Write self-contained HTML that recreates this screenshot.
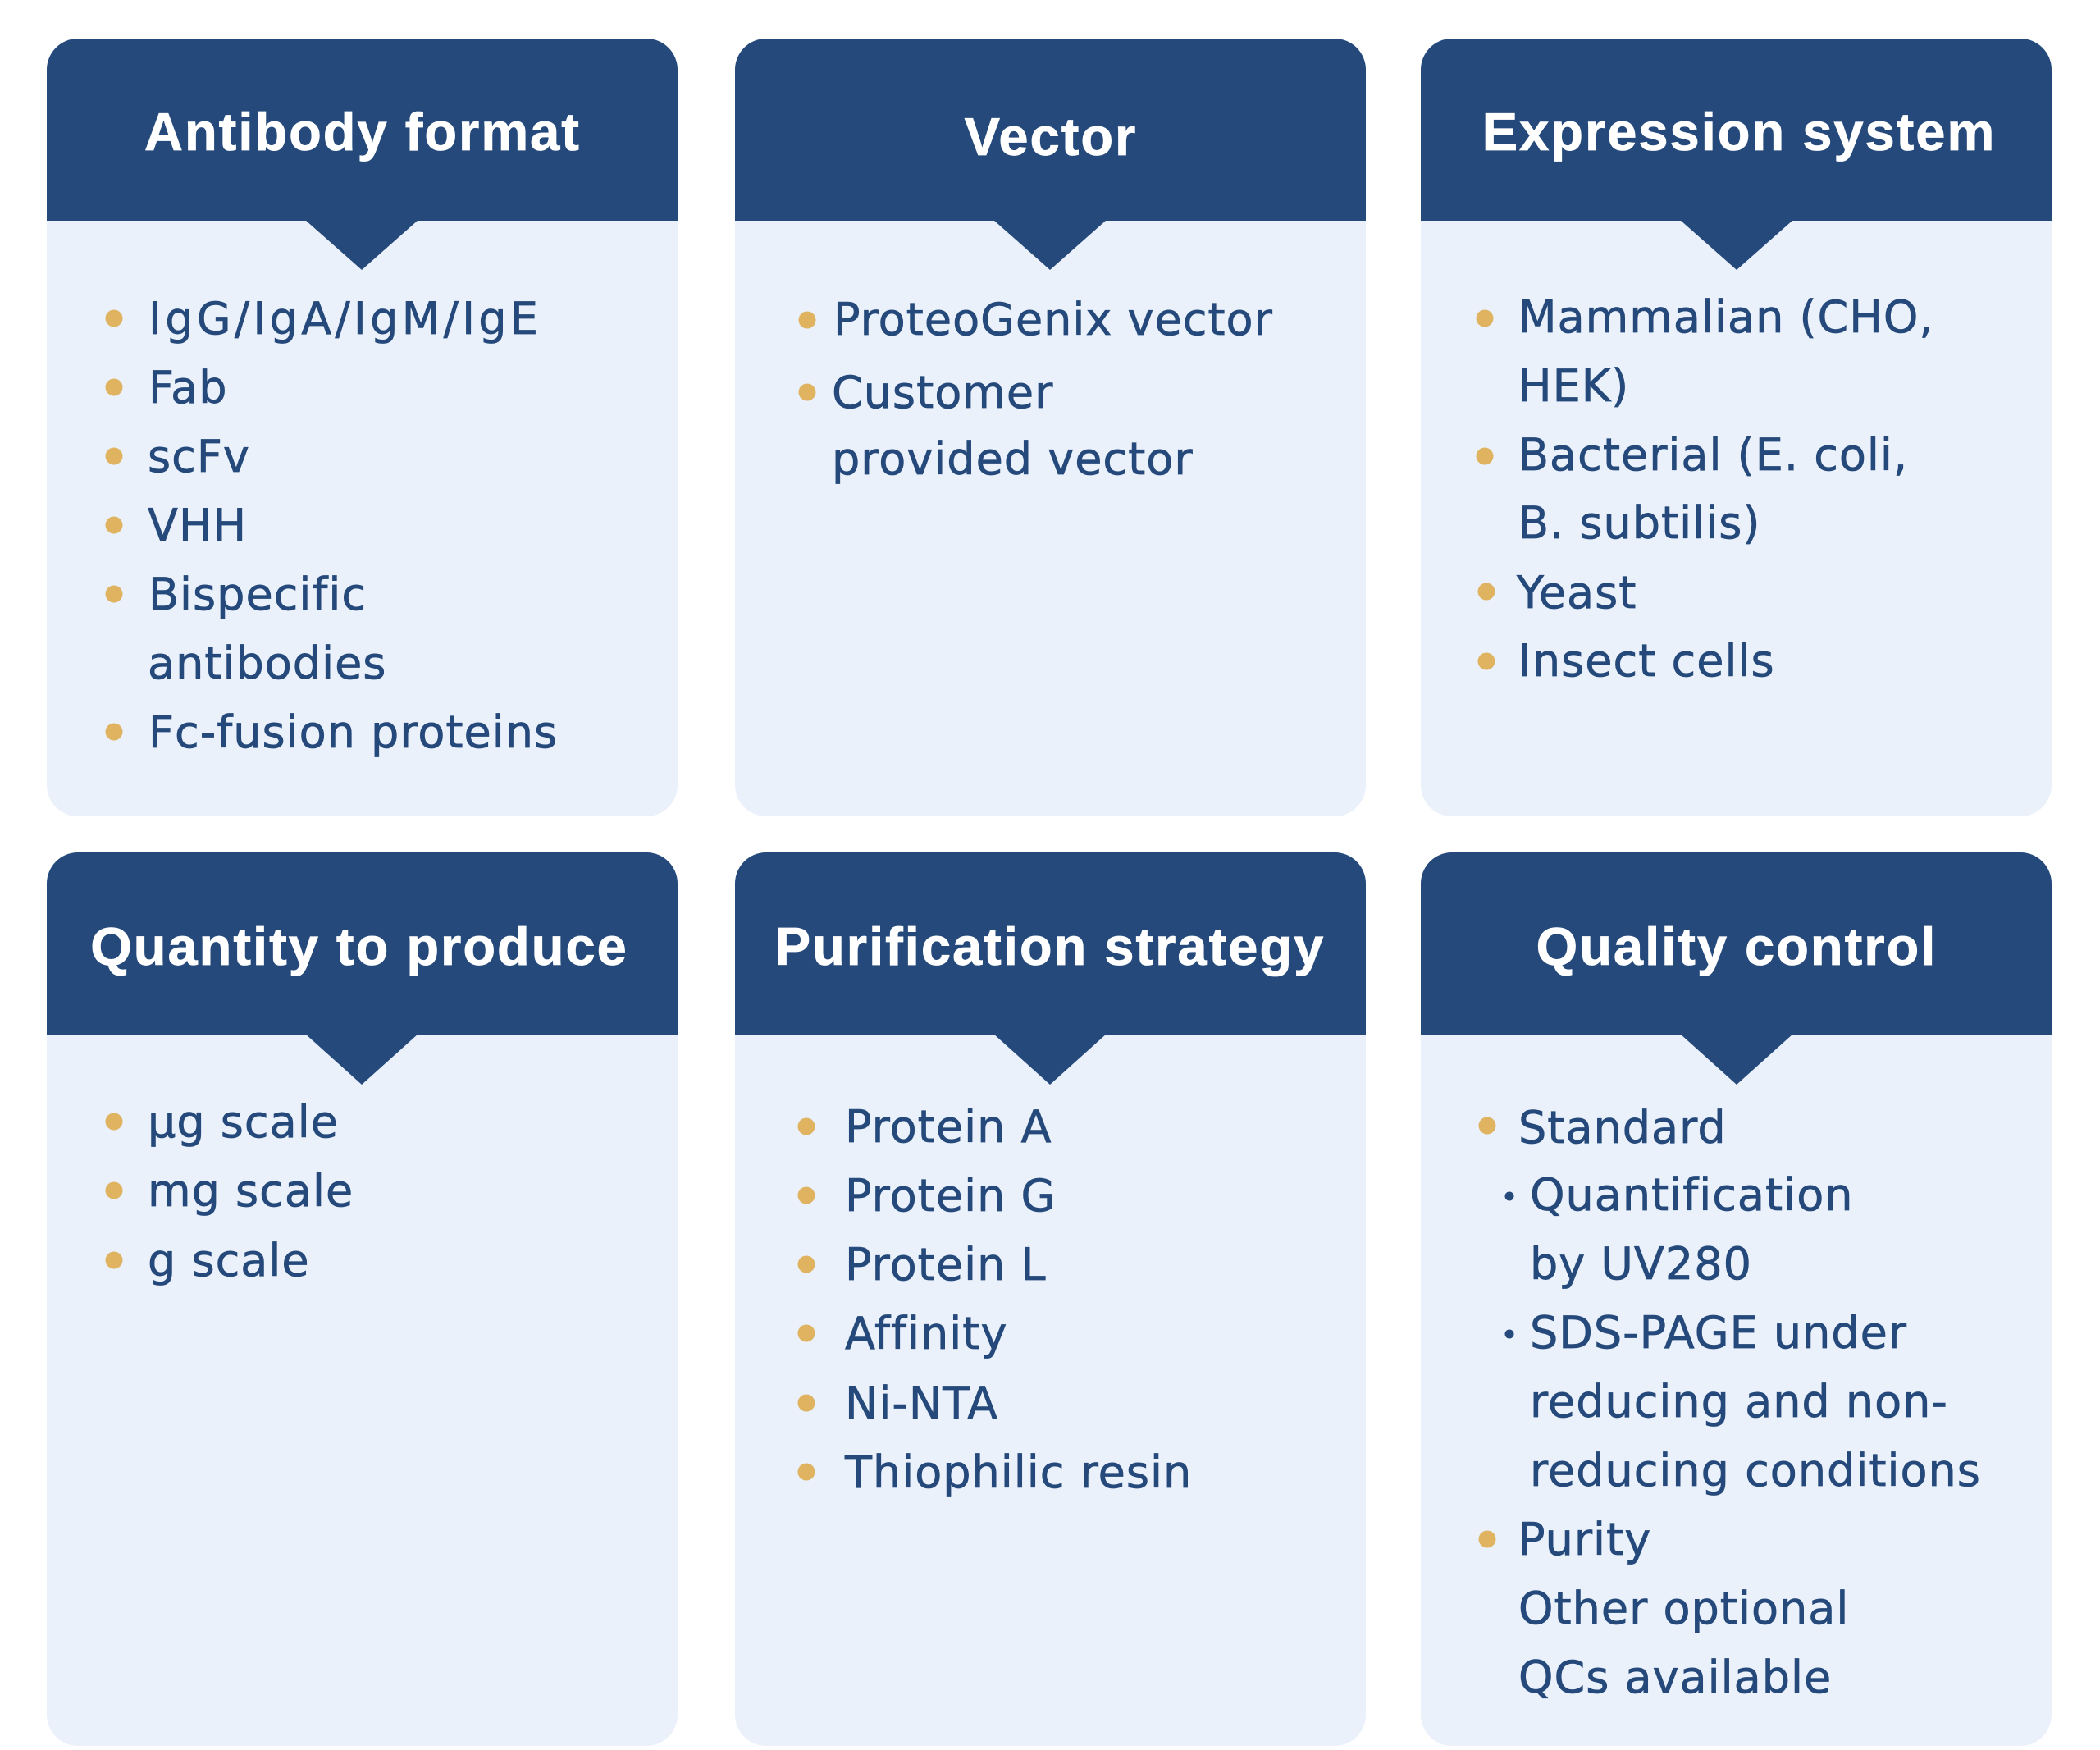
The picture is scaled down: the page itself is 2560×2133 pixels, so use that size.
<!DOCTYPE html>
<html>
<head>
<meta charset="utf-8">
<style>
  html,body{margin:0;padding:0;background:#ffffff;}
  svg{display:block;}
  .t{font-family:"Liberation Sans",Arial,sans-serif;font-weight:bold;font-size:65px;fill:#ffffff;stroke:#ffffff;stroke-width:0.8px;letter-spacing:2px;}
  .b{font-family:"DejaVu Sans","Liberation Sans",sans-serif;font-size:54px;fill:#24497a;stroke:#24497a;stroke-width:0.7px;letter-spacing:1px;}
</style>
</head>
<body>
<svg width="2560" height="2133" viewBox="0 0 2560 2133" xmlns="http://www.w3.org/2000/svg">
  <rect x="0" y="0" width="2560" height="2133" fill="#ffffff"/>

  <!-- Row 1 cards -->
  <g>
    <rect x="57" y="47" width="769" height="948" rx="38" ry="38" fill="#eaf1fb"/>
    <rect x="57" y="47" width="769" height="222" rx="38" ry="38" fill="#24497a"/>
    <rect x="57" y="100" width="769" height="169" fill="#24497a"/>
    <polygon points="372,268 510,268 441,329" fill="#24497a"/>

    <rect x="896" y="47" width="769" height="948" rx="38" ry="38" fill="#eaf1fb"/>
    <rect x="896" y="47" width="769" height="222" rx="38" ry="38" fill="#24497a"/>
    <rect x="896" y="100" width="769" height="169" fill="#24497a"/>
    <polygon points="1211,268 1349,268 1280,329" fill="#24497a"/>

    <rect x="1732" y="47" width="769" height="948" rx="38" ry="38" fill="#eaf1fb"/>
    <rect x="1732" y="47" width="769" height="222" rx="38" ry="38" fill="#24497a"/>
    <rect x="1732" y="100" width="769" height="169" fill="#24497a"/>
    <polygon points="2048,268 2186,268 2117,329" fill="#24497a"/>
  </g>

  <!-- Row 2 cards -->
  <g>
    <rect x="57" y="1039" width="769" height="1089" rx="38" ry="38" fill="#eaf1fb"/>
    <rect x="57" y="1039" width="769" height="222" rx="38" ry="38" fill="#24497a"/>
    <rect x="57" y="1090" width="769" height="171" fill="#24497a"/>
    <polygon points="372,1260 510,1260 441,1322" fill="#24497a"/>

    <rect x="896" y="1039" width="769" height="1089" rx="38" ry="38" fill="#eaf1fb"/>
    <rect x="896" y="1039" width="769" height="222" rx="38" ry="38" fill="#24497a"/>
    <rect x="896" y="1090" width="769" height="171" fill="#24497a"/>
    <polygon points="1211,1260 1349,1260 1280,1322" fill="#24497a"/>

    <rect x="1732" y="1039" width="769" height="1089" rx="38" ry="38" fill="#eaf1fb"/>
    <rect x="1732" y="1039" width="769" height="222" rx="38" ry="38" fill="#24497a"/>
    <rect x="1732" y="1090" width="769" height="171" fill="#24497a"/>
    <polygon points="2048,1260 2186,1260 2117,1322" fill="#24497a"/>
  </g>

  <!-- Titles -->
  <text class="t" x="442" y="183" text-anchor="middle">Antibody format</text>
  <text class="t" x="1281" y="189" text-anchor="middle">Vector</text>
  <text class="t" x="2120" y="183" text-anchor="middle">Expression system</text>
  <text class="t" x="438" y="1176" text-anchor="middle">Quantity to produce</text>
  <text class="t" x="1280" y="1176" text-anchor="middle">Purification strategy</text>
  <text class="t" x="2117" y="1176" text-anchor="middle">Quality control</text>

  <!-- Bullets (gold) -->
  <g fill="#dfb35f">
    <!-- card 1 -->
    <circle cx="139" cy="388" r="10.5"/>
    <circle cx="139" cy="472" r="10.5"/>
    <circle cx="139" cy="556" r="10.5"/>
    <circle cx="139" cy="640" r="10.5"/>
    <circle cx="139" cy="724" r="10.5"/>
    <circle cx="139" cy="892" r="10.5"/>
    <!-- card 2 -->
    <circle cx="984" cy="390" r="10.5"/>
    <circle cx="984" cy="478" r="10.5"/>
    <!-- card 3 -->
    <circle cx="1810" cy="388" r="10.5"/>
    <circle cx="1810" cy="556" r="10.5"/>
    <circle cx="1812" cy="721" r="10.5"/>
    <circle cx="1812" cy="806" r="10.5"/>
    <!-- card 4 -->
    <circle cx="139" cy="1367" r="10.5"/>
    <circle cx="139" cy="1451" r="10.5"/>
    <circle cx="139" cy="1536" r="10.5"/>
    <!-- card 5 -->
    <circle cx="983" cy="1373" r="10.5"/>
    <circle cx="983" cy="1457" r="10.5"/>
    <circle cx="983" cy="1541" r="10.5"/>
    <circle cx="983" cy="1625" r="10.5"/>
    <circle cx="983" cy="1710" r="10.5"/>
    <circle cx="983" cy="1794" r="10.5"/>
    <!-- card 6 -->
    <circle cx="1813" cy="1372" r="10.5"/>
    <circle cx="1813" cy="1876" r="10.5"/>
  </g>
  <!-- sub-bullets -->
  <g fill="#24497a">
    <circle cx="1840" cy="1458" r="5.5"/>
    <circle cx="1840" cy="1626" r="5.5"/>
  </g>

  <!-- Card 1 text -->
  <text class="b" x="181" y="407" textLength="476" lengthAdjust="spacing">IgG/IgA/IgM/IgE</text>
  <text class="b" x="181" y="491">Fab</text>
  <text class="b" x="180" y="575">scFv</text>
  <text class="b" x="180" y="659">VHH</text>
  <text class="b" x="181" y="743">Bispecific</text>
  <text class="b" x="180" y="827">antibodies</text>
  <text class="b" x="181" y="911">Fc-fusion proteins</text>

  <!-- Card 2 text -->
  <text class="b" x="1016" y="408">ProteoGenix vector</text>
  <text class="b" x="1014" y="497">Customer</text>
  <text class="b" x="1014" y="578">provided vector</text>

  <!-- Card 3 text -->
  <text class="b" x="1851" y="405">Mammalian (CHO,</text>
  <text class="b" x="1851" y="489">HEK)</text>
  <text class="b" x="1851" y="573">Bacterial (E. coli,</text>
  <text class="b" x="1851" y="656">B. subtilis)</text>
  <text class="b" x="1849" y="741">Yeast</text>
  <text class="b" x="1851" y="824">Insect cells</text>

  <!-- Card 4 text -->
  <text class="b" x="180" y="1386">µg scale</text>
  <text class="b" x="180" y="1470">mg scale</text>
  <text class="b" x="180" y="1555">g scale</text>

  <!-- Card 5 text -->
  <text class="b" x="1030" y="1392">Protein A</text>
  <text class="b" x="1030" y="1476">Protein G</text>
  <text class="b" x="1030" y="1560">Protein L</text>
  <text class="b" x="1030" y="1644">Affinity</text>
  <text class="b" x="1030" y="1729">Ni-NTA</text>
  <text class="b" x="1030" y="1813">Thiophilic resin</text>

  <!-- Card 6 text -->
  <text class="b" x="1851" y="1393">Standard</text>
  <text class="b" x="1865" y="1475">Quantification</text>
  <text class="b" x="1865" y="1559">by UV280</text>
  <text class="b" x="1865" y="1643">SDS-PAGE under</text>
  <text class="b" x="1865" y="1727">reducing and non-</text>
  <text class="b" x="1865" y="1811">reducing conditions</text>
  <text class="b" x="1851" y="1895">Purity</text>
  <text class="b" x="1851" y="1979">Other optional</text>
  <text class="b" x="1851" y="2063">QCs available</text>
</svg>
</body>
</html>
